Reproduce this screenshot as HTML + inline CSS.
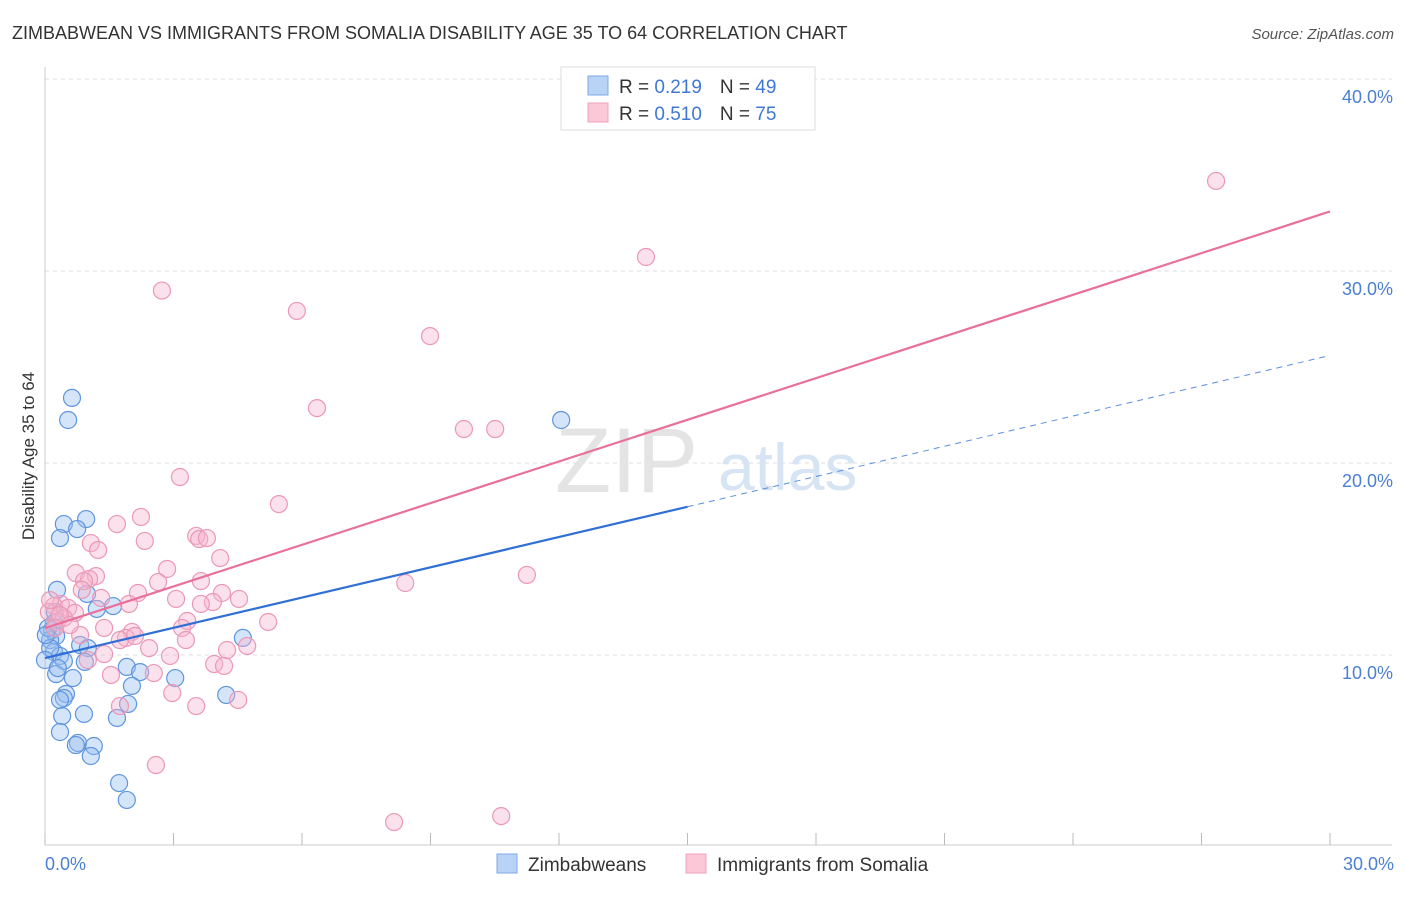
<!DOCTYPE html>
<html><head><meta charset="utf-8"><style>
body{margin:0;background:#fff;font-family:"Liberation Sans",sans-serif}
svg text{font-family:"Liberation Sans",sans-serif}
</style></head><body>
<svg id="chart" width="1406" height="892" xmlns="http://www.w3.org/2000/svg">
<text x="12" y="39" font-size="18" fill="#333">ZIMBABWEAN VS IMMIGRANTS FROM SOMALIA DISABILITY AGE 35 TO 64 CORRELATION CHART</text>
<text x="1394" y="39" font-size="15" fill="#555" text-anchor="end" font-style="italic">Source: ZipAtlas.com</text>
<g id="grid"></g>
<g>
<text x="555" y="492" font-size="92" font-family="Liberation Serif" fill="#e4e4e4">ZIP</text>
<text x="718" y="490" font-size="66" fill="#d6e4f4">atlas</text>
</g>
<line x1="45" y1="67" x2="45" y2="845" stroke="#ccc"/>
<line x1="45" y1="845" x2="1392" y2="845" stroke="#ccc"/>
<g id="ticks"></g>
<text transform="translate(34,456) rotate(-90)" font-size="17" fill="#333" text-anchor="middle">Disability Age 35 to 64</text>
<text x="45" y="870" font-size="18" fill="#4a7fd4">0.0%</text>
<text x="1394" y="870" font-size="18" fill="#4a7fd4" text-anchor="end">30.0%</text>
<g id="marks"></g>
<g>
<rect x="561" y="67" width="254" height="63" fill="#fff" stroke="#ddd"/>
<rect x="588" y="76" width="20" height="19" fill="#b8d3f5" stroke="#7ea9e6"/>
<rect x="588" y="103" width="20" height="19" fill="#fbc8d8" stroke="#f0a0ba"/>
<text x="619" y="93" font-size="19" fill="#333">R = <tspan fill="#3f78d4">0.219</tspan><tspan dx="18">N = </tspan><tspan fill="#3f78d4">49</tspan></text>
<text x="619" y="120" font-size="19" fill="#333">R = <tspan fill="#3f78d4">0.510</tspan><tspan dx="18">N = </tspan><tspan fill="#3f78d4">75</tspan></text>
</g>
<g>
<rect x="497" y="854" width="20" height="19" fill="#b8d3f5" stroke="#7ea9e6"/>
<text x="528" y="871" font-size="19" fill="#333">Zimbabweans</text>
<rect x="686" y="854" width="20" height="19" fill="#fbc8d8" stroke="#f0a0ba"/>
<text x="717" y="871" font-size="19" fill="#333">Immigrants from Somalia</text>
</g>
</svg>
<script>
const yTicks=[10,20,30,40];
const yTickLabels=["10.0%","20.0%","30.0%","40.0%"];
const xTicks=[0,3,6,9,12,15,18,21,24,27,30];
const blueX=[0.63,0.54,12.05,0.96,0.44,0.75,0.35,0.28,0.98,1.59,1.21,0.21,0.16,0.26,0.12,0.82,1.00,0.21,0.35,0.44,0.93,1.91,2.22,0.26,0.65,2.03,0.49,0.44,0.35,1.94,4.62,4.23,3.04,0.91,0.40,1.68,0.35,0.77,0.72,1.14,1.07,1.73,1.91,0.07,0.12,0.00,0.23,0.02,0.30];
const blueY=[23.39,22.24,22.24,17.08,16.82,16.56,16.09,13.39,13.18,12.55,12.40,11.67,11.30,10.99,10.78,10.52,10.36,10.16,9.95,9.69,9.64,9.38,9.11,9.01,8.80,8.39,7.97,7.76,7.66,7.45,10.89,7.92,8.80,6.93,6.82,6.72,5.99,5.42,5.31,5.26,4.74,3.33,2.45,11.41,10.36,9.74,12.24,11.04,9.32];
const pinkX=[27.34,14.03,2.73,5.88,8.99,6.35,9.78,10.51,3.15,5.46,1.68,2.24,3.53,3.60,3.78,1.07,2.33,1.24,4.09,2.85,0.72,1.19,1.03,0.91,2.64,3.64,8.41,11.25,2.17,4.13,4.53,3.92,3.64,1.31,0.86,3.06,1.96,0.37,0.21,0.54,0.70,0.09,0.44,0.28,3.32,5.21,0.82,1.38,2.03,2.43,3.20,1.89,1.75,4.72,4.25,1.38,3.95,4.18,1.54,2.54,2.97,3.53,4.51,1.75,2.59,8.15,10.65,2.92,2.10,0.12,0.35,0.58,1.00,3.29,0.23];
const pinkY=[34.69,30.73,28.98,27.92,26.61,22.86,21.77,21.77,19.27,17.86,16.82,17.19,16.20,16.04,16.09,15.83,15.94,15.47,15.05,14.48,14.27,14.11,13.96,13.85,13.80,13.85,13.75,14.17,13.23,13.23,12.92,12.76,12.66,12.97,13.39,12.92,12.66,12.66,12.55,12.45,12.19,12.24,11.93,11.72,11.77,11.72,11.04,11.41,11.20,10.36,11.41,10.89,10.78,10.47,10.26,10.05,9.53,9.43,8.96,9.06,8.02,7.34,7.66,7.34,4.27,1.30,1.61,9.95,10.99,12.86,12.08,11.56,9.74,10.78,11.41];
const blueTrend=[9.84,25.6];
const pinkTrend=[11.4,33.1];
const NS="http://www.w3.org/2000/svg";
const xs=v=>45+v*(1285/30);
const ys=v=>847-v*19.2;
function mk(tag,parent,attrs){const e=document.createElementNS(NS,tag);for(const k in attrs)e.setAttribute(k,attrs[k]);parent.appendChild(e);return e;}
const grid=document.getElementById('grid');
yTicks.forEach((t,i)=>{
  const l=mk('line',grid,{x1:45,x2:1392,y1:ys(t),y2:ys(t),stroke:'#ddd','stroke-dasharray':'4,4'});
  
  
  const tx=mk('text',grid,{x:1393,y:ys(t)+24,'font-size':18,fill:'#4a7fd4','text-anchor':'end'});
  tx.textContent=yTickLabels[i];
  
  
});
const ticks=document.getElementById('ticks');
xTicks.forEach(t=>{
  const l=mk('line',ticks,{x1:xs(t),x2:xs(t),y1:833,y2:845,stroke:'#bbb'});
  
  
});
const marks=document.getElementById('marks');
blueX.forEach((x,i)=>{
  const c=mk('circle',marks,{cx:xs(x),cy:ys(blueY[i]),r:8.5,fill:'rgba(150,190,240,0.4)',stroke:'#5f95de','stroke-width':1.2});
  
  
});
pinkX.forEach((x,i)=>{
  const c=mk('circle',marks,{cx:xs(x),cy:ys(pinkY[i]),r:8.5,fill:'rgba(246,180,204,0.4)',stroke:'#eb98b6','stroke-width':1.2});
  
  
});
const bMid=blueTrend[0]+(blueTrend[1]-blueTrend[0])*15/30;
const b1=mk('line',marks,{x1:xs(0),y1:ys(blueTrend[0]),x2:xs(15),y2:ys(bMid),stroke:'#2f6fd6','stroke-width':2.2});


const b2=mk('line',marks,{x1:xs(15),y1:ys(bMid),x2:xs(30),y2:ys(blueTrend[1]),stroke:'#5a8fde','stroke-width':1,'stroke-dasharray':'6,5'});


const p1=mk('line',marks,{x1:xs(0),y1:ys(pinkTrend[0]),x2:xs(30),y2:ys(pinkTrend[1]),stroke:'#e8709a','stroke-width':2.2});


</script>
</body></html>
